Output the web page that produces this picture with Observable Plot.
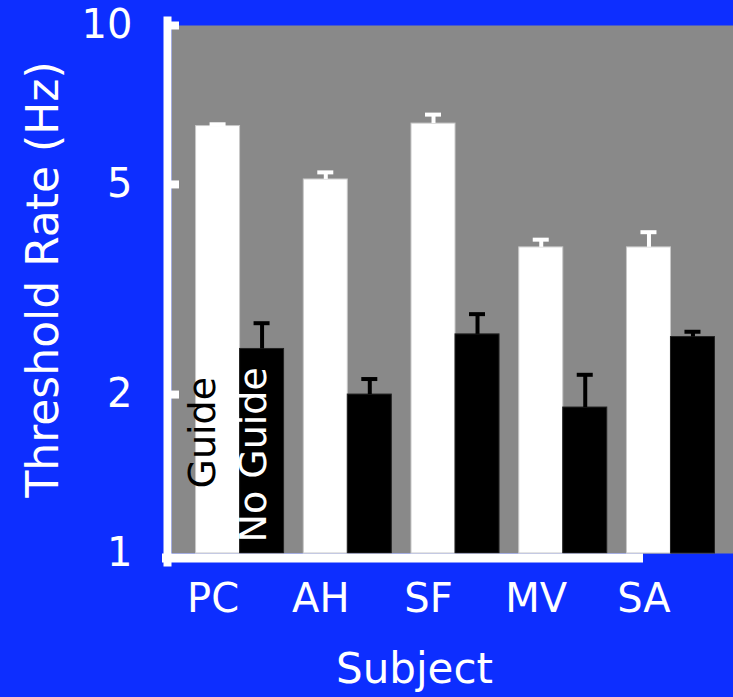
<!DOCTYPE html>
<html><head><meta charset="utf-8">
<script src="https://cdn.jsdelivr.net/npm/d3@7"></script>
<script src="https://cdn.jsdelivr.net/npm/@observablehq/plot@0.6"></script>
<style>
html,body{margin:0;padding:0;background:#0d2eff;}
#chart svg{display:block;}
</style></head><body><div id="chart"></div>
<script>
const subjects = ["PC", "AH", "SF", "MV", "SA"];
const guide = [6.45, 5.11, 6.52, 3.80, 3.80];
const guideUpper = [6.50, 5.27, 6.78, 3.93, 4.06];
const noGuide = [2.44, 2.00, 2.60, 1.89, 2.57];
const noGuideUpper = [2.73, 2.14, 2.84, 2.18, 2.63];
const yTicks = [1, 2, 5, 10];
const yTickMarks = [2, 5, 10];
const legendLabels = ["Guide", "No Guide"];
const yLabel = "Threshold Rate (Hz)";
const xLabel = "Subject";

const BLUE = "#0d2eff", GRAY = "#898989";
const FONT = "'Comic Sans MS', 'DejaVu Sans', sans-serif";

const rows = subjects.map((s, i) => ({
  subject: s, guide: guide[i], guideUpper: guideUpper[i],
  noGuide: noGuide[i], noGuideUpper: noGuideUpper[i]
}));

const chart = Plot.plot({
  width: 733, height: 697,
  marginTop: 25, marginBottom: 144, marginLeft: 171, marginRight: 0,
  style: {background: BLUE, fontFamily: FONT, color: "white"},
  x: {domain: subjects, paddingInner: 0.183, paddingOuter: 0.2, align: 0.57, round: false},
  y: {type: "log", domain: [1, 10]},
  marks: [
    Plot.frame({fill: GRAY}),
    Plot.barY(rows, {x: "subject", y1: () => 1, y2: "guide", fill: "white", stroke: "#c8c8c8", strokeWidth: 1, insetRight: 44}),
    Plot.barY(rows, {x: "subject", y1: () => 1, y2: "noGuide", fill: "black", stroke: "#222", strokeWidth: 1, insetLeft: 44}),
    Plot.ruleX(rows, {x: "subject", y1: "guide", y2: "guideUpper", dx: -22, stroke: "white", strokeWidth: 4}),
    Plot.tickY(rows, {x: "subject", y: "guideUpper", insetLeft: 14, insetRight: 58, stroke: "white", strokeWidth: 4}),
    Plot.ruleX(rows, {x: "subject", y1: "noGuide", y2: "noGuideUpper", dx: 22, stroke: "black", strokeWidth: 4}),
    Plot.tickY(rows, {x: "subject", y: "noGuideUpper", insetLeft: 58, insetRight: 14, stroke: "black", strokeWidth: 4}),
    Plot.text([legendLabels[0]], {x: () => subjects[0], frameAnchor: "bottom", textAnchor: "start", rotate: -90, dx: -25, dy: -65, fill: "black", fontSize: 38}),
    Plot.text([legendLabels[1]], {x: () => subjects[0], frameAnchor: "bottom", textAnchor: "start", rotate: -90, dx: 26, dy: -11, fill: "white", fontSize: 38}),
    Plot.frame({anchor: "left", stroke: "white", strokeWidth: 8, dx: -4, insetTop: -5, insetBottom: -9}),
    Plot.ruleY([1], {stroke: "white", strokeWidth: 9, dy: 4.5, insetLeft: -9, insetRight: 90}),
    Plot.axisY(yTickMarks, {tickSize: 8, dx: 8, strokeWidth: 8, color: "white", tickFormat: () => "", label: null}),
    Plot.axisY(yTicks, {tickSize: 0, tickPadding: 39, fontSize: 40, color: "white", tickFormat: String, label: null}),
    Plot.axisX({tickSize: 0, tickPadding: 30, fontSize: 40, dx: -27, color: "white", label: null}),
    Plot.text([yLabel], {frameAnchor: "left", textAnchor: "middle", rotate: -90, dx: -128, dy: -10, fontSize: 44, fill: "white"}),
    Plot.text([xLabel], {frameAnchor: "bottom", textAnchor: "middle", dy: 129, dx: -38, fontSize: 42, fill: "white"})
  ]
});
document.getElementById("chart").appendChild(chart);
</script>
</body></html>
